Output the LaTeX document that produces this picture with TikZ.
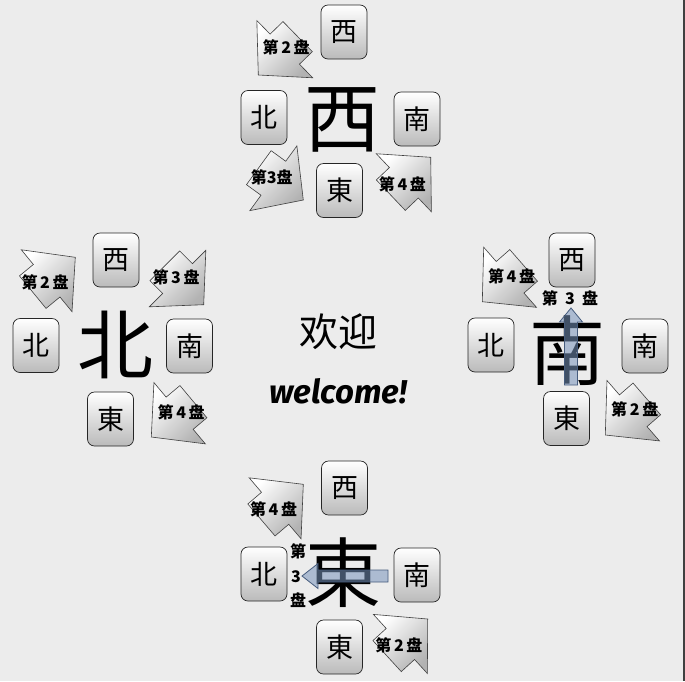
\documentclass[tikz,border=0pt]{standalone}
\usepackage{fontspec}
\newfontfamily\cjk{Noto Sans CJK SC}
\newfontfamily\welc{Fira Sans}
\definecolor{bgc}{RGB}{236,236,236}
\definecolor{blfill}{RGB}{120,148,188}
\definecolor{bldraw}{RGB}{70,92,125}
\tikzset{
  dirbox/.style={draw=black!85, line width=0.7pt, rounded corners=7pt, top color=white, bottom color=black!27,
    minimum width=46pt, minimum height=54pt, inner sep=0pt, font=\cjk\fontsize{27}{27}\selectfont},
  bigchar/.style={inner sep=0pt, font=\cjk\fontsize{76}{76}\selectfont},
  arrowshape/.style={draw=black!75, line width=0.6pt, top color=white, bottom color=black!30, shading angle=45},
  arrowlabel/.style={inner sep=0pt, font=\cjk\bfseries\fontsize{16}{16}\selectfont},
  bluearrow/.style={fill=blfill, fill opacity=0.55, draw=bldraw, line width=0.8pt},
}
\newcommand\turnarrow[5]{%
  \begin{scope}[shift={(#2,#3)}, rotate=#4]
    \path[arrowshape] (0pt,0pt) -- (-37pt,40pt) -- (-37pt,21pt) -- (-55pt,21pt) -- (-55pt,-21pt)
      -- (-37pt,-21pt) -- (-37pt,-40pt) -- cycle;
    \node[arrowlabel] (#1) at (-39pt,0pt) {#5};
  \end{scope}}
\begin{document}
\begin{tikzpicture}[x=1pt,y=-1pt]
\useasboundingbox (0,0) rectangle (685,681);
\fill[bgc] (0,0) rectangle (685,681);
\draw[black!75, line width=1.5pt] (684,0) -- (684,681);

% ---------- top cluster ----------
\node[bigchar] (tbig) at (342,120) {西};
\node[dirbox] (tw) at (344,32) {西};
\node[dirbox] (tn) at (264,117.5) {北};
\node[dirbox] (ts) at (417,119) {南};
\node[dirbox] (te) at (339.5,190.5) {東};
\turnarrow{ta2}{258.3}{75}{224.3}{第\,2\,盘}
\turnarrow{ta3}{303.3}{200}{-36}{第3盘}
\turnarrow{ta4}{430.7}{157.3}{43.5}{第\,4\,盘}

% ---------- left cluster ----------
\node[bigchar] (lbig) at (115,345) {北};
\node[dirbox] (lw) at (116,260) {西};
\node[dirbox] (ln) at (36,345.5) {北};
\node[dirbox] (ls) at (189.5,346) {南};
\node[dirbox] (le) at (110.5,419) {東};
\turnarrow{la2}{75.3}{257.3}{39.3}{第\,2\,盘}
\turnarrow{la3}{203.7}{304.7}{-45}{第\,3\,盘}
\turnarrow{la4}{151.3}{437}{220}{第\,4\,盘}

% ---------- right cluster ----------
\node[bigchar] (rbig) at (567,351) {南};
\node[dirbox] (rw) at (572,260) {西};
\node[dirbox] (rn) at (491,345) {北};
\node[dirbox] (rs) at (645,346) {南};
\node[dirbox] (re) at (566.5,418.5) {東};
\turnarrow{ra4}{482.3}{301.7}{221.3}{第\,4\,盘}
\turnarrow{ra2}{605.3}{435}{221}{第\,2\,盘}
\node[arrowlabel] (ra3) at (570,298) {第\ \ 3\ \ 盘};
\path[bluearrow] (571,308) -- (582.5,322) -- (577.5,322) -- (577.5,385) -- (564.5,385)
  -- (564.5,322) -- (559.5,322) -- cycle;

% ---------- bottom cluster ----------
\node[bigchar] (bbig) at (343,573) {東};
\node[dirbox] (bw) at (344.5,488) {西};
\node[dirbox] (bn) at (264,574) {北};
\node[dirbox] (bs) at (417,575) {南};
\node[dirbox] (be) at (339.5,647) {東};
\turnarrow{ba4}{303.3}{484.3}{40.4}{第\,4\,盘}
\turnarrow{ba2}{427.7}{619}{42.4}{第\,2\,盘}
\node[arrowlabel] (ba3a) at (298,551) {第};
\node[arrowlabel] (ba3b) at (296,577) {3};
\node[arrowlabel] (ba3c) at (298,600) {盘};
\path[bluearrow] (302,576) -- (318,563.5) -- (318,570) -- (388,570) -- (388,582)
  -- (318,582) -- (318,588.5) -- cycle;

% ---------- centre ----------
\node[inner sep=0pt, font=\cjk\fontsize{39}{39}\selectfont] (hy) at (338,332) {欢迎};
\node[inner sep=0pt, font=\welc\bfseries\itshape\fontsize{33}{33}\selectfont] (wel) at (338,391) {welcome!};
\end{tikzpicture}
\end{document}
